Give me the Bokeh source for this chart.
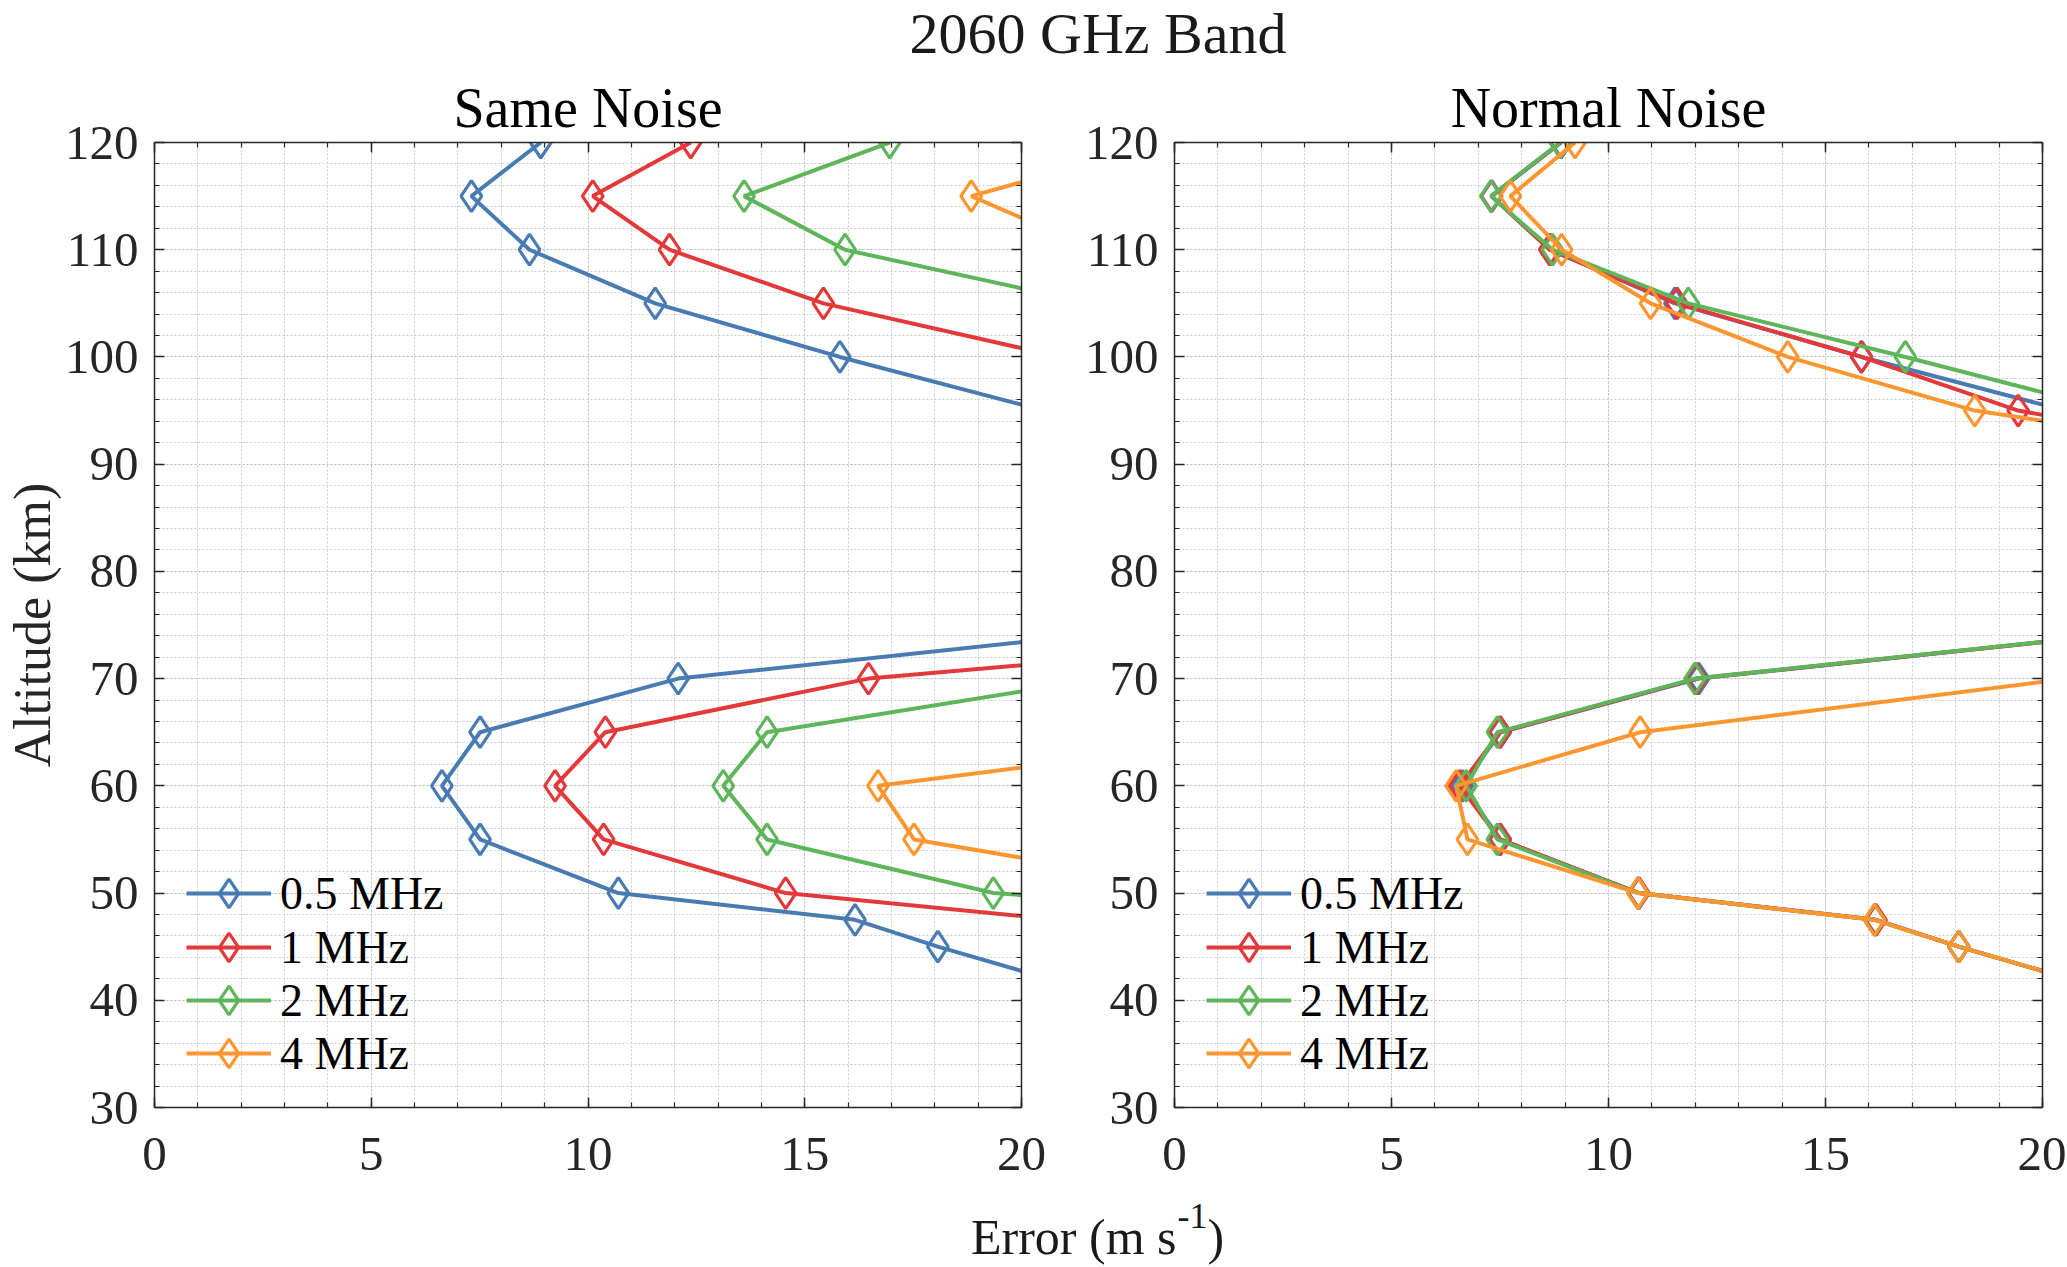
import numpy as np
from bokeh.plotting import figure
from bokeh.layouts import row, column
from bokeh.models import Plot, Range1d, SingleIntervalTicker, LinearAxis, Legend, LegendItem, Label
from bokeh.embed import file_html
from bokeh.resources import INLINE

nan = np.nan

# altitude levels (km) shared by every profile
altitude = [120, 115, 110, 105, 100, 95, 90, 85, 80, 75, 70, 65, 60, 55, 50, 47.5, 45, 42.5]

labels = ["0.5 MHz", "1 MHz", "2 MHz", "4 MHz"]
colors = ["#497bb3", "#e4393b", "#5fb65a", "#fd9630"]

# Same Noise - error (m/s), values past 20 leave the axes
same_05 = [8.91, 7.31, 8.65, 11.55, 15.81, 20.52, nan, nan, nan, 23.7, 12.08, 7.51, 6.63, 7.51, 10.70, 16.16, 18.07, 20.2]
same_1 = [12.37, 10.11, 11.88, 15.43, 20.9, nan, nan, nan, nan, 30.6, 16.47, 10.40, 9.24, 10.36, 14.56, 20.9, nan, nan]
same_2 = [16.96, 13.60, 15.93, 21.58, nan, nan, nan, nan, nan, nan, 21.85, 14.13, 13.12, 14.13, 19.35, 27.9, nan, nan]
same_4 = [23.3, 18.84, 21.7, nan, nan, nan, nan, nan, nan, nan, nan, 26.4, 16.69, 17.52, 24.8, nan, nan, nan]

# Normal Noise
normal_05 = [8.91, 7.31, 8.65, 11.53, 15.83, 20.52, nan, nan, nan, 23.7, 12.08, 7.51, 6.63, 7.51, 10.70, 16.16, 18.07, 20.2]
normal_1 = [8.90, 7.30, 8.65, 11.58, 15.83, 19.44, 26.4, nan, nan, 23.7, 12.03, 7.50, 6.57, 7.50, 10.70, 16.16, 18.07, 20.2]
normal_2 = [8.89, 7.29, 8.71, 11.84, 16.84, 21.63, nan, nan, nan, 23.7, 11.99, 7.44, 6.72, 7.44, 10.68, 16.13, 18.07, 20.2]
normal_4 = [9.23, 7.74, 8.92, 10.97, 14.13, 18.44, 26.6, nan, nan, nan, 20.6, 10.73, 6.49, 6.75, 10.68, 16.13, 18.07, 20.2]

FONT = "Liberation Serif"
AX = "#262626"
W = 2066


def style_axis(ax, ticker, show_labels=True):
    ax.ticker = ticker
    ax.axis_line_color = AX
    ax.axis_line_width = 1.5
    ax.major_tick_line_color = AX
    ax.minor_tick_line_color = AX
    ax.major_tick_line_width = 1.5
    ax.minor_tick_line_width = 1.2
    ax.major_tick_in = 10
    ax.major_tick_out = 0
    ax.minor_tick_in = 5
    ax.minor_tick_out = 0
    ax.major_label_text_font = FONT
    if show_labels:
        ax.major_label_text_font_size = "49px"
        ax.major_label_text_color = AX
    else:
        # mirrored box ticks only
        ax.major_label_text_font_size = "1px"
        ax.major_label_text_color = None
        ax.major_label_standoff = 0


def make_panel(title, series, width, left, right, ylabel=None):
    p = figure(width=width, height=1119, x_range=Range1d(0, 20), y_range=Range1d(30, 120),
               toolbar_location=None, output_backend="svg",
               min_border_left=left, min_border_right=right, min_border_top=74, min_border_bottom=80)
    p.outline_line_color = None
    style_axis(p.xaxis[0], SingleIntervalTicker(interval=5, num_minor_ticks=5))
    style_axis(p.yaxis[0], SingleIntervalTicker(interval=10, num_minor_ticks=5))
    p.xaxis.major_label_standoff = 30
    p.yaxis.major_label_standoff = 16
    top_ax = LinearAxis()
    style_axis(top_ax, SingleIntervalTicker(interval=5, num_minor_ticks=5), False)
    p.add_layout(top_ax, "above")
    right_ax = LinearAxis()
    style_axis(right_ax, SingleIntervalTicker(interval=10, num_minor_ticks=5), False)
    p.add_layout(right_ax, "right")
    if ylabel:
        p.yaxis[0].axis_label = ylabel
        p.yaxis[0].axis_label_text_font = FONT
        p.yaxis[0].axis_label_text_font_size = "52px"
        p.yaxis[0].axis_label_text_font_style = "normal"
        p.yaxis[0].axis_label_text_color = AX
        p.yaxis[0].axis_label_standoff = 1

    for g in (p.xgrid, p.ygrid):
        g.grid_line_color = "#c0c0c0"
        g.grid_line_dash = "2 2"
        g.grid_line_width = 1
        g.minor_grid_line_color = "#cccccc"
        g.minor_grid_line_dash = "2 2"
        g.minor_grid_line_width = 1

    p.title.text = title
    p.title.text_font = FONT
    p.title.text_font_size = "56px"
    p.title.text_font_style = "normal"
    p.title.text_color = "#000000"
    p.title.align = "center"
    p.title.standoff = 7

    alt = np.array(altitude, dtype=float)
    # one legend per entry so the legend marker can be large while rows stay close
    row_bottoms = [178, 124, 71, 18]
    for lab, col, err, yb in zip(labels, colors, series, row_bottoms):
        err = np.array(err, dtype=float)
        ln = p.line(err, alt, line_color=col, line_width=4)
        m = err <= 20
        sc = p.scatter(err[m], alt[m], marker="diamond", size=31, fill_color=None,
                       line_color=col, line_width=3.2)
        leg = Legend(items=[LegendItem(label=lab, renderers=[ln, sc])], location=(32, yb))
        leg.background_fill_alpha = 0
        leg.border_line_color = None
        leg.padding = 0
        leg.margin = 0
        leg.spacing = 0
        leg.glyph_width = 85
        leg.glyph_height = 72
        leg.label_standoff = 9
        leg.label_text_font = FONT
        leg.label_text_font_size = "46px"
        leg.label_text_color = "#000000"
        p.add_layout(leg)
    return p


def text_strip(height):
    return Plot(width=W, height=height, x_range=Range1d(0, W), y_range=Range1d(0, height),
                toolbar_location=None, output_backend="svg", title=None,
                min_border_left=0, min_border_right=0, min_border_top=0, min_border_bottom=0,
                outline_line_color=None)


def add_text(f, x, y, text, size, align):
    f.add_layout(Label(x=x, y=y, text=text, text_align=align, text_baseline="middle",
                       text_font=FONT, text_font_size=size, text_color="#1a1a1a"))


p1 = make_panel("Same Noise", [same_05, same_1, same_2, same_4], 1060, 153, 39, "Altitude (km)")
p2 = make_panel("Normal Noise", [normal_05, normal_1, normal_2, normal_4], W - 1060, 114, 24)

top = text_strip(68)
add_text(top, 1097.5, 35, "2060 GHz Band", "58px", "center")

bottom = text_strip(79)
add_text(bottom, 1176, 30, "Error (m s", "50px", "right")
add_text(bottom, 1177, 51, "-1", "36px", "left")
add_text(bottom, 1207, 30, ")", "50px", "left")

layout = column(top, row(p1, p2), bottom)
open("out.html", "w").write(file_html(layout, INLINE))
